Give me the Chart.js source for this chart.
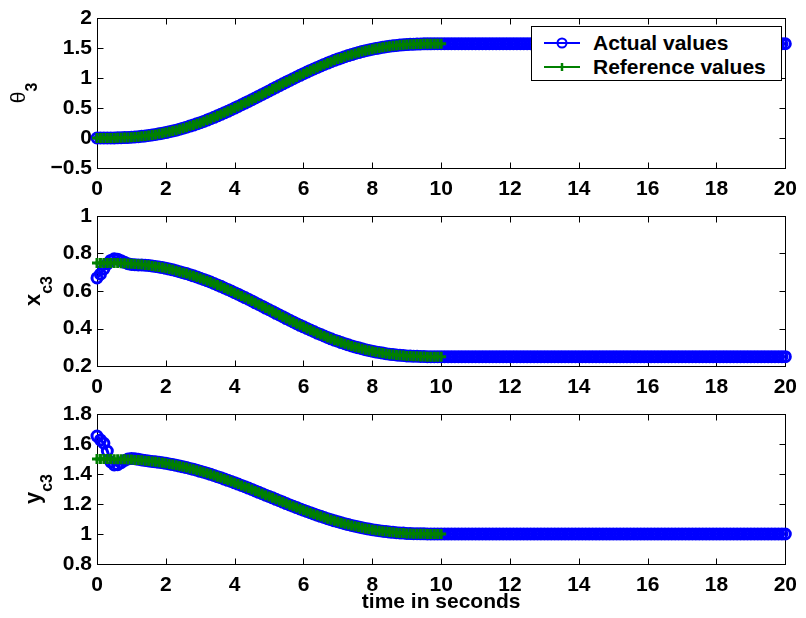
<!DOCTYPE html>
<html>
<head>
<meta charset="utf-8">
<script src="https://cdn.jsdelivr.net/npm/chart.js@4.4.0/dist/chart.umd.min.js"></script>
<style>
  body { margin: 0; background: #fff; }
  #fig { position: relative; width: 806px; height: 618px; font-family: "Liberation Sans", Arial, sans-serif; }
  .panel { position: absolute; left: 0; }
  #legend { position: absolute; left: 531px; top: 26px; width: 249px; height: 53px; border: 1px solid #000; background: #fff; }
  #legend .item { position: absolute; left: 11px; height: 24px; line-height: 24px; font-weight: bold; font-size: 21px; white-space: nowrap; }
  #legend svg { position: absolute; left: 0; top: 0; }
  #legend span { position: absolute; left: 50px; top: 0; }
</style>
</head>
<body>
<div id="fig">
  <canvas id="c1" class="panel" style="top:0" width="806" height="198"></canvas>
  <canvas id="c2" class="panel" style="top:198px" width="806" height="198"></canvas>
  <canvas id="c3" class="panel" style="top:396px" width="806" height="222"></canvas>
  <div id="legend">
    <div class="item" style="top:4px">
      <svg width="38" height="24"><line x1="1" y1="12" x2="37" y2="12" stroke="#0000ff" stroke-width="2"/><circle cx="19" cy="12" r="4.5" fill="none" stroke="#0000ff" stroke-width="2"/></svg>
      <span>Actual values</span>
    </div>
    <div class="item" style="top:28px">
      <svg width="38" height="24"><line x1="1" y1="12" x2="37" y2="12" stroke="#008000" stroke-width="2"/><line x1="19" y1="8" x2="19" y2="16" stroke="#008000" stroke-width="2.5"/></svg>
      <span>Reference values</span>
    </div>
  </div>
</div>
<script>
// sample times (s)
const times = [
  0,0.1,0.2,0.3,0.4,0.5,0.6,0.7,0.8,0.9,
  1,1.1,1.2,1.3,1.4,1.5,1.6,1.7,1.8,1.9,
  2,2.1,2.2,2.3,2.4,2.5,2.6,2.7,2.8,2.9,
  3,3.1,3.2,3.3,3.4,3.5,3.6,3.7,3.8,3.9,
  4,4.1,4.2,4.3,4.4,4.5,4.6,4.7,4.8,4.9,
  5,5.1,5.2,5.3,5.4,5.5,5.6,5.7,5.8,5.9,
  6,6.1,6.2,6.3,6.4,6.5,6.6,6.7,6.8,6.9,
  7,7.1,7.2,7.3,7.4,7.5,7.6,7.7,7.8,7.9,
  8,8.1,8.2,8.3,8.4,8.5,8.6,8.7,8.8,8.9,
  9,9.1,9.2,9.3,9.4,9.5,9.6,9.7,9.8,9.9,
  10,10.1,10.2,10.3,10.4,10.5,10.6,10.7,10.8,10.9,
  11,11.1,11.2,11.3,11.4,11.5,11.6,11.7,11.8,11.9,
  12,12.1,12.2,12.3,12.4,12.5,12.6,12.7,12.8,12.9,
  13,13.1,13.2,13.3,13.4,13.5,13.6,13.7,13.8,13.9,
  14,14.1,14.2,14.3,14.4,14.5,14.6,14.7,14.8,14.9,
  15,15.1,15.2,15.3,15.4,15.5,15.6,15.7,15.8,15.9,
  16,16.1,16.2,16.3,16.4,16.5,16.6,16.7,16.8,16.9,
  17,17.1,17.2,17.3,17.4,17.5,17.6,17.7,17.8,17.9,
  18,18.1,18.2,18.3,18.4,18.5,18.6,18.7,18.8,18.9,
  19,19.1,19.2,19.3,19.4,19.5,19.6,19.7,19.8,19.9,
  20
];

// reference trajectories (0..10 s)
const thetaRef = [
  0.000,0.000,0.000,0.000,0.001,0.002,0.003,0.005,0.007,0.010,
  0.013,0.018,0.022,0.028,0.035,0.042,0.050,0.059,0.069,0.079,
  0.091,0.104,0.117,0.131,0.146,0.163,0.180,0.198,0.216,0.236,
  0.256,0.277,0.299,0.322,0.345,0.369,0.394,0.419,0.445,0.472,
  0.499,0.526,0.554,0.582,0.610,0.639,0.668,0.697,0.727,0.756,
  0.785,0.815,0.844,0.874,0.903,0.932,0.960,0.989,1.017,1.045,
  1.072,1.099,1.126,1.151,1.177,1.201,1.226,1.249,1.272,1.294,
  1.315,1.335,1.355,1.373,1.391,1.408,1.424,1.440,1.454,1.467,
  1.480,1.491,1.502,1.512,1.521,1.529,1.536,1.543,1.548,1.553,
  1.557,1.561,1.564,1.566,1.568,1.569,1.570,1.570,1.571,1.571,
  1.571
];
const xRef = [
  0.750,0.750,0.750,0.750,0.750,0.749,0.749,0.748,0.748,0.747,
  0.746,0.744,0.743,0.741,0.739,0.737,0.734,0.731,0.728,0.725,
  0.721,0.717,0.713,0.708,0.703,0.698,0.693,0.687,0.681,0.675,
  0.668,0.662,0.655,0.648,0.640,0.632,0.625,0.616,0.608,0.600,
  0.591,0.583,0.574,0.565,0.556,0.547,0.537,0.528,0.519,0.509,
  0.500,0.491,0.481,0.472,0.463,0.453,0.444,0.435,0.426,0.417,
  0.409,0.400,0.392,0.384,0.375,0.368,0.360,0.352,0.345,0.338,
  0.332,0.325,0.319,0.313,0.307,0.302,0.297,0.292,0.287,0.283,
  0.279,0.275,0.272,0.269,0.266,0.263,0.261,0.259,0.257,0.256,
  0.254,0.253,0.252,0.252,0.251,0.251,0.250,0.250,0.250,0.250,
  0.250
];
const yRef = [
  1.500,1.500,1.500,1.500,1.500,1.499,1.499,1.498,1.498,1.497,
  1.496,1.494,1.493,1.491,1.489,1.487,1.484,1.481,1.478,1.475,
  1.471,1.467,1.463,1.458,1.453,1.448,1.443,1.437,1.431,1.425,
  1.418,1.412,1.405,1.398,1.390,1.382,1.375,1.366,1.358,1.350,
  1.341,1.333,1.324,1.315,1.306,1.297,1.287,1.278,1.269,1.259,
  1.250,1.241,1.231,1.222,1.213,1.203,1.194,1.185,1.176,1.167,
  1.159,1.150,1.142,1.134,1.125,1.118,1.110,1.102,1.095,1.088,
  1.082,1.075,1.069,1.063,1.057,1.052,1.047,1.042,1.037,1.033,
  1.029,1.025,1.022,1.019,1.016,1.013,1.011,1.009,1.007,1.006,
  1.004,1.003,1.002,1.002,1.001,1.001,1.000,1.000,1.000,1.000,
  1.000
];

// actual (measured) values (0..20 s)
const thetaAct = [
  0.000,0.000,0.000,0.000,0.001,0.002,0.003,0.005,0.007,0.010,
  0.013,0.018,0.022,0.028,0.035,0.042,0.050,0.059,0.069,0.079,
  0.091,0.104,0.117,0.131,0.146,0.163,0.180,0.198,0.216,0.236,
  0.256,0.277,0.299,0.322,0.345,0.369,0.394,0.419,0.445,0.472,
  0.499,0.526,0.554,0.582,0.610,0.639,0.668,0.697,0.727,0.756,
  0.785,0.815,0.844,0.874,0.903,0.932,0.960,0.989,1.017,1.045,
  1.072,1.099,1.126,1.151,1.177,1.201,1.226,1.249,1.272,1.294,
  1.315,1.335,1.355,1.373,1.391,1.408,1.424,1.440,1.454,1.467,
  1.480,1.491,1.502,1.512,1.521,1.529,1.536,1.543,1.548,1.553,
  1.557,1.561,1.564,1.566,1.568,1.569,1.570,1.570,1.571,1.571,
  1.571,1.571,1.571,1.571,1.571,1.571,1.571,1.571,1.571,1.571,
  1.571,1.571,1.571,1.571,1.571,1.571,1.571,1.571,1.571,1.571,
  1.571,1.571,1.571,1.571,1.571,1.571,1.571,1.571,1.571,1.571,
  1.571,1.571,1.571,1.571,1.571,1.571,1.571,1.571,1.571,1.571,
  1.571,1.571,1.571,1.571,1.571,1.571,1.571,1.571,1.571,1.571,
  1.571,1.571,1.571,1.571,1.571,1.571,1.571,1.571,1.571,1.571,
  1.571,1.571,1.571,1.571,1.571,1.571,1.571,1.571,1.571,1.571,
  1.571,1.571,1.571,1.571,1.571,1.571,1.571,1.571,1.571,1.571,
  1.571,1.571,1.571,1.571,1.571,1.571,1.571,1.571,1.571,1.571,
  1.571,1.571,1.571,1.571,1.571,1.571,1.571,1.571,1.571,1.571,
  1.571
];
const xAct = [
  0.670,0.690,0.718,0.745,0.763,0.772,0.770,0.762,0.753,0.746,
  0.742,0.740,0.739,0.739,0.738,0.736,0.734,0.731,0.728,0.725,
  0.721,0.717,0.713,0.708,0.703,0.698,0.693,0.687,0.681,0.675,
  0.668,0.662,0.655,0.648,0.640,0.632,0.625,0.616,0.608,0.600,
  0.591,0.583,0.574,0.565,0.556,0.547,0.537,0.528,0.519,0.509,
  0.500,0.491,0.481,0.472,0.463,0.453,0.444,0.435,0.426,0.417,
  0.409,0.400,0.392,0.384,0.375,0.368,0.360,0.352,0.345,0.338,
  0.332,0.325,0.319,0.313,0.307,0.302,0.297,0.292,0.287,0.283,
  0.279,0.275,0.272,0.269,0.266,0.263,0.261,0.259,0.257,0.256,
  0.254,0.253,0.252,0.252,0.251,0.251,0.250,0.250,0.250,0.250,
  0.250,0.250,0.250,0.250,0.250,0.250,0.250,0.250,0.250,0.250,
  0.250,0.250,0.250,0.250,0.250,0.250,0.250,0.250,0.250,0.250,
  0.250,0.250,0.250,0.250,0.250,0.250,0.250,0.250,0.250,0.250,
  0.250,0.250,0.250,0.250,0.250,0.250,0.250,0.250,0.250,0.250,
  0.250,0.250,0.250,0.250,0.250,0.250,0.250,0.250,0.250,0.250,
  0.250,0.250,0.250,0.250,0.250,0.250,0.250,0.250,0.250,0.250,
  0.250,0.250,0.250,0.250,0.250,0.250,0.250,0.250,0.250,0.250,
  0.250,0.250,0.250,0.250,0.250,0.250,0.250,0.250,0.250,0.250,
  0.250,0.250,0.250,0.250,0.250,0.250,0.250,0.250,0.250,0.250,
  0.250,0.250,0.250,0.250,0.250,0.250,0.250,0.250,0.250,0.250,
  0.250
];
const yAct = [
  1.653,1.627,1.605,1.553,1.480,1.460,1.462,1.475,1.490,1.500,
  1.503,1.502,1.498,1.494,1.490,1.487,1.484,1.481,1.478,1.475,
  1.471,1.467,1.463,1.458,1.453,1.448,1.443,1.437,1.431,1.425,
  1.418,1.412,1.405,1.398,1.390,1.382,1.375,1.366,1.358,1.350,
  1.341,1.333,1.324,1.315,1.306,1.297,1.287,1.278,1.269,1.259,
  1.250,1.241,1.231,1.222,1.213,1.203,1.194,1.185,1.176,1.167,
  1.159,1.150,1.142,1.134,1.125,1.118,1.110,1.102,1.095,1.088,
  1.082,1.075,1.069,1.063,1.057,1.052,1.047,1.042,1.037,1.033,
  1.029,1.025,1.022,1.019,1.016,1.013,1.011,1.009,1.007,1.006,
  1.004,1.003,1.002,1.002,1.001,1.001,1.000,1.000,1.000,1.000,
  1.000,1.000,1.000,1.000,1.000,1.000,1.000,1.000,1.000,1.000,
  1.000,1.000,1.000,1.000,1.000,1.000,1.000,1.000,1.000,1.000,
  1.000,1.000,1.000,1.000,1.000,1.000,1.000,1.000,1.000,1.000,
  1.000,1.000,1.000,1.000,1.000,1.000,1.000,1.000,1.000,1.000,
  1.000,1.000,1.000,1.000,1.000,1.000,1.000,1.000,1.000,1.000,
  1.000,1.000,1.000,1.000,1.000,1.000,1.000,1.000,1.000,1.000,
  1.000,1.000,1.000,1.000,1.000,1.000,1.000,1.000,1.000,1.000,
  1.000,1.000,1.000,1.000,1.000,1.000,1.000,1.000,1.000,1.000,
  1.000,1.000,1.000,1.000,1.000,1.000,1.000,1.000,1.000,1.000,
  1.000,1.000,1.000,1.000,1.000,1.000,1.000,1.000,1.000,1.000,
  1.000
];

const FONT = '"Liberation Sans", Arial, sans-serif';

// matlab-style box with inward ticks on all four sides
const boxTicks = {
  id: 'boxTicks',
  beforeDatasetsDraw(chart) {
    const ctx = chart.ctx, a = chart.chartArea;
    const xs = chart.scales.x, ys = chart.scales.y;
    const L = Math.round(a.left) + 0.5, R = Math.round(a.right) + 0.5;
    const T = Math.round(a.top) + 0.5, B = Math.round(a.bottom) + 0.5;
    ctx.save();
    ctx.strokeStyle = '#000';
    ctx.lineWidth = 1;
    ctx.strokeRect(L, T, R - L, B - T);
    ctx.beginPath();
    xs.ticks.forEach(t => {
      const px = Math.round(xs.getPixelForValue(t.value)) + 0.5;
      ctx.moveTo(px, B); ctx.lineTo(px, B - 6);
      ctx.moveTo(px, T); ctx.lineTo(px, T + 6);
    });
    ys.ticks.forEach(t => {
      const py = Math.round(ys.getPixelForValue(t.value)) + 0.5;
      ctx.moveTo(L, py); ctx.lineTo(L + 6, py);
      ctx.moveTo(R, py); ctx.lineTo(R - 6, py);
    });
    ctx.stroke();
    ctx.restore();
  }
};

// rotated y label with a subscript
const yTitle = {
  id: 'yTitle',
  afterDraw(chart, args, opts) {
    const ctx = chart.ctx, a = chart.chartArea;
    const cy = (a.top + a.bottom) / 2;
    ctx.save();
    ctx.font = opts.mainFont;
    const w1 = ctx.measureText(opts.main).width;
    ctx.font = opts.subFont;
    const w2 = ctx.measureText(opts.sub).width;
    ctx.translate(opts.x, cy);
    ctx.rotate(-Math.PI / 2);
    ctx.fillStyle = '#000';
    ctx.textAlign = 'left';
    ctx.textBaseline = 'alphabetic';
    const x0 = -(w1 + w2) / 2;
    ctx.font = opts.mainFont;
    ctx.fillText(opts.main, x0, 0);
    ctx.font = opts.subFont;
    ctx.fillText(opts.sub, x0 + w1, opts.subShift);
    ctx.restore();
  }
};

function fmt(v) {
  const s = String(Math.round(v * 100) / 100);
  return s.replace('-', '\u2212');
}

function makeChart(id, actual, reference, yMin, yMax, yStep, label, xHeight, xTitle) {
  new Chart(document.getElementById(id), {
    type: 'line',
    data: {
      labels: times,
      datasets: [
        {
          label: 'Actual values',
          data: actual,
          borderColor: '#0000ff',
          borderWidth: 3,
          pointStyle: 'circle',
          pointRadius: 5,
          pointBorderWidth: 3,
          pointBorderColor: '#0000ff',
          pointBackgroundColor: 'rgba(0,0,0,0)',
          tension: 0,
          clip: false,
          order: 2
        },
        {
          label: 'Reference values',
          data: reference,
          borderColor: '#008000',
          borderWidth: 2.5,
          pointStyle: 'cross',
          pointRadius: 5,
          pointBorderWidth: 3,
          pointBorderColor: '#008000',
          tension: 0,
          clip: false,
          order: 1
        }
      ]
    },
    options: {
      responsive: false,
      animation: false,
      devicePixelRatio: 1,
      events: [],
      layout: { autoPadding: false, padding: { left: 0, right: 17, top: 18, bottom: 0 } },
      plugins: {
        legend: { display: false },
        tooltip: { enabled: false },
        yTitle: label
      },
      scales: {
        x: {
          type: 'linear',
          min: 0, max: 20,
          grid: { display: false, drawTicks: false },
          border: { display: false },
          ticks: { stepSize: 2, padding: 9, color: '#000', font: { family: FONT, size: 21, weight: 'bold' }, maxRotation: 0, callback: fmt },
          title: xTitle ? { display: true, text: xTitle, color: '#000', font: { family: FONT, size: 21, weight: 'bold' }, padding: { top: 0, bottom: 3 } } : { display: false },
          afterFit(s) { s.height = xHeight; }
        },
        y: {
          min: yMin, max: yMax,
          grid: { display: false, drawTicks: false },
          border: { display: false },
          ticks: { stepSize: yStep, padding: 5, color: '#000', font: { family: FONT, size: 21, weight: 'bold' }, callback: fmt },
          afterFit(s) { s.width = 97; }
        }
      }
    },
    plugins: [boxTicks, yTitle]
  });
}

makeChart('c1', thetaAct, thetaRef, -0.5, 2, 0.5,
  { main: '\u03b8', sub: '3', mainFont: '21px ' + FONT, subFont: 'bold 16px ' + FONT, x: 25, subShift: 12 }, 30, null);
makeChart('c2', xAct, xRef, 0.2, 1, 0.2,
  { main: 'x', sub: 'c3', mainFont: 'bold 22px ' + FONT, subFont: 'bold 16px ' + FONT, x: 40, subShift: 12 }, 30, null);
makeChart('c3', yAct, yRef, 0.8, 1.8, 0.2,
  { main: 'y', sub: 'c3', mainFont: 'bold 22px ' + FONT, subFont: 'bold 16px ' + FONT, x: 40, subShift: 12 }, 54, 'time in seconds');
</script>
</body>
</html>
